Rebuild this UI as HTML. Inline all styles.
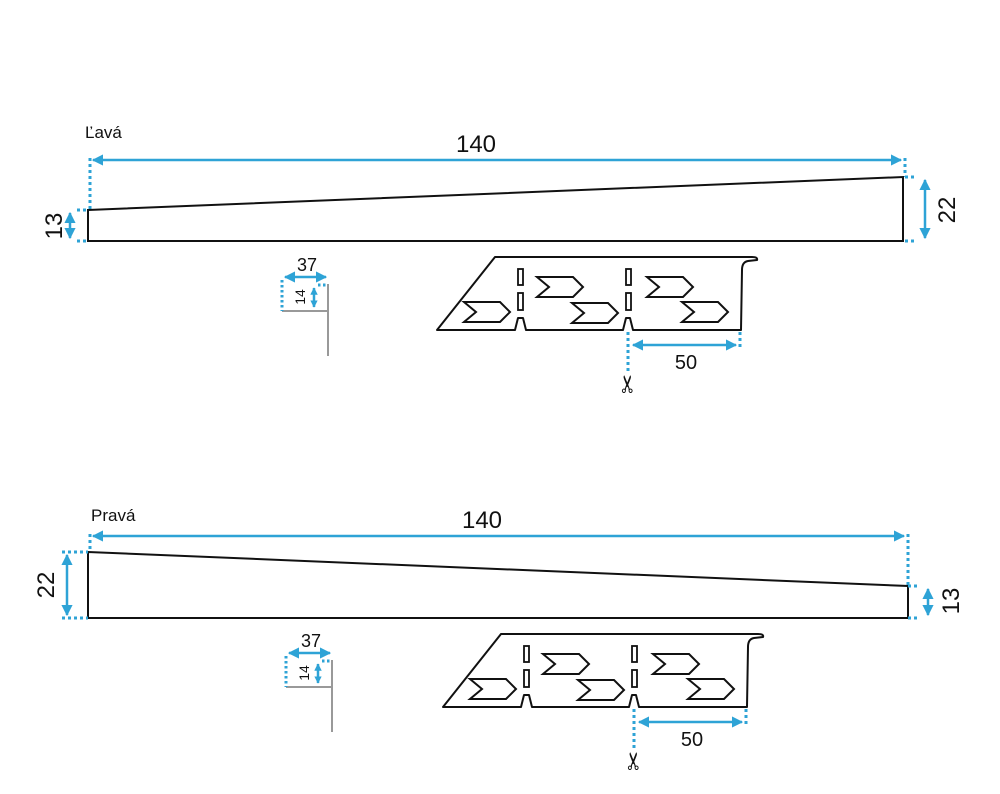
<!DOCTYPE html>
<html><head><meta charset="utf-8"><style>
body{margin:0;background:#fff}
svg{display:block}
text{font-family:"Liberation Sans","DejaVu Sans",sans-serif;fill:#111}
</style></head><body>
<svg width="1000" height="794" viewBox="0 0 1000 794" xmlns="http://www.w3.org/2000/svg">
<defs>
<marker id="a" viewBox="0 0 10 10" refX="9" refY="5" markerWidth="4.5" markerHeight="4.5" orient="auto-start-reverse"><path d="M0,0 L10,5 L0,10 z" fill="#2ea3d6"/></marker>
<marker id="b" viewBox="0 0 10 10" refX="9" refY="5" markerWidth="3" markerHeight="3" orient="auto-start-reverse"><path d="M0,0 L10,5 L0,10 z" fill="#2ea3d6"/></marker>
<g id="chev"><polygon points="0,0 36,0 46,10 36,20 0,20 12,10" fill="none" stroke="#111" stroke-width="2"/></g>
<g id="prof">
 <path d="M437,330 L495,257 L752,257 Q758,257 757,260 L748,261 Q742,262 742,270 L741,330 L633,330 L630,318 L626,318 L623,330 L526,330 L523,318 L518,318 L515,330 Z" fill="none" stroke="#111" stroke-width="2" stroke-linejoin="round"/>
 <rect x="518" y="269" width="5" height="16" fill="none" stroke="#111" stroke-width="1.8"/>
 <rect x="518" y="293" width="5" height="17" fill="none" stroke="#111" stroke-width="1.8"/>
 <rect x="626" y="269" width="5" height="16" fill="none" stroke="#111" stroke-width="1.8"/>
 <rect x="626" y="293" width="5" height="17" fill="none" stroke="#111" stroke-width="1.8"/>
 <use href="#chev" x="464" y="302"/>
 <use href="#chev" x="537" y="277"/>
 <use href="#chev" x="572" y="303"/>
 <use href="#chev" x="647" y="277"/>
 <use href="#chev" x="682" y="302"/>
 <line x1="628" y1="332" x2="628" y2="372" stroke="#2ea3d6" stroke-width="3" stroke-dasharray="3,3"/>
 <line x1="740" y1="332" x2="740" y2="349" stroke="#2ea3d6" stroke-width="3" stroke-dasharray="3,3"/>
 <line x1="633" y1="345" x2="736" y2="345" stroke="#2ea3d6" stroke-width="2.5" marker-start="url(#a)" marker-end="url(#a)"/>
 <text x="686" y="369" font-size="20" text-anchor="middle">50</text>
 <text transform="translate(636,384) rotate(-90)" font-size="24" text-anchor="middle">✂</text>
</g>
<g id="small">
 <line x1="282" y1="311" x2="328" y2="311" stroke="#999" stroke-width="2"/>
 <line x1="328" y1="284" x2="328" y2="356" stroke="#999" stroke-width="2"/>
 <line x1="282" y1="280" x2="282" y2="311" stroke="#2ea3d6" stroke-width="3" stroke-dasharray="2.5,2.5"/>
 <line x1="318" y1="285" x2="328" y2="285" stroke="#2ea3d6" stroke-width="3" stroke-dasharray="2.5,2.5"/>
 <line x1="285" y1="277" x2="326" y2="277" stroke="#2ea3d6" stroke-width="2.5" marker-start="url(#a)" marker-end="url(#a)"/>
 <line x1="314" y1="288" x2="314" y2="307" stroke="#2ea3d6" stroke-width="2.5" marker-start="url(#b)" marker-end="url(#b)"/>
 <text x="307" y="271" font-size="18" text-anchor="middle">37</text>
 <text transform="translate(305,297) rotate(-90)" font-size="14" text-anchor="middle">14</text>
</g>
</defs>

<!-- TOP -->
<text x="85" y="138" font-size="17">Ľavá</text>
<text x="476" y="152" font-size="24" text-anchor="middle">140</text>
<line x1="90" y1="158" x2="90" y2="210" stroke="#2ea3d6" stroke-width="3" stroke-dasharray="3,3"/>
<line x1="905" y1="158" x2="905" y2="177" stroke="#2ea3d6" stroke-width="3" stroke-dasharray="3,3"/>
<line x1="93" y1="160" x2="901" y2="160" stroke="#2ea3d6" stroke-width="2.5" marker-start="url(#a)" marker-end="url(#a)"/>
<polygon points="88,210 903,177 903,241 88,241" fill="none" stroke="#111" stroke-width="2"/>
<line x1="77" y1="210" x2="88" y2="210" stroke="#2ea3d6" stroke-width="3" stroke-dasharray="3,3"/>
<line x1="77" y1="241" x2="88" y2="241" stroke="#2ea3d6" stroke-width="3" stroke-dasharray="3,3"/>
<line x1="70" y1="213" x2="70" y2="238" stroke="#2ea3d6" stroke-width="2.5" marker-start="url(#a)" marker-end="url(#a)"/>
<text transform="translate(62,226) rotate(-90)" font-size="24" text-anchor="middle">13</text>
<line x1="905" y1="177" x2="916" y2="177" stroke="#2ea3d6" stroke-width="3" stroke-dasharray="3,3"/>
<line x1="905" y1="241" x2="916" y2="241" stroke="#2ea3d6" stroke-width="3" stroke-dasharray="3,3"/>
<line x1="925" y1="180" x2="925" y2="238" stroke="#2ea3d6" stroke-width="2.5" marker-start="url(#a)" marker-end="url(#a)"/>
<text transform="translate(955,210) rotate(-90)" font-size="24" text-anchor="middle">22</text>
<use href="#small"/>
<use href="#prof"/>

<!-- BOTTOM -->
<text x="91" y="521" font-size="17">Pravá</text>
<text x="482" y="528" font-size="24" text-anchor="middle">140</text>
<line x1="90" y1="534" x2="90" y2="552" stroke="#2ea3d6" stroke-width="3" stroke-dasharray="3,3"/>
<line x1="908" y1="534" x2="908" y2="585" stroke="#2ea3d6" stroke-width="3" stroke-dasharray="3,3"/>
<line x1="93" y1="536" x2="904" y2="536" stroke="#2ea3d6" stroke-width="2.5" marker-start="url(#a)" marker-end="url(#a)"/>
<polygon points="88,552 908,586 908,618 88,618" fill="none" stroke="#111" stroke-width="2"/>
<line x1="62" y1="552" x2="88" y2="552" stroke="#2ea3d6" stroke-width="3" stroke-dasharray="3,3"/>
<line x1="62" y1="618" x2="88" y2="618" stroke="#2ea3d6" stroke-width="3" stroke-dasharray="3,3"/>
<line x1="67" y1="555" x2="67" y2="615" stroke="#2ea3d6" stroke-width="2.5" marker-start="url(#a)" marker-end="url(#a)"/>
<text transform="translate(54,585) rotate(-90)" font-size="24" text-anchor="middle">22</text>
<line x1="908" y1="586" x2="920" y2="586" stroke="#2ea3d6" stroke-width="3" stroke-dasharray="3,3"/>
<line x1="908" y1="618" x2="920" y2="618" stroke="#2ea3d6" stroke-width="3" stroke-dasharray="3,3"/>
<line x1="928" y1="589" x2="928" y2="615" stroke="#2ea3d6" stroke-width="2.5" marker-start="url(#a)" marker-end="url(#a)"/>
<text transform="translate(959,601) rotate(-90)" font-size="24" text-anchor="middle">13</text>
<g transform="translate(4,376)"><use href="#small"/></g>
<g transform="translate(6,377)"><use href="#prof"/></g>
</svg>
</body></html>
